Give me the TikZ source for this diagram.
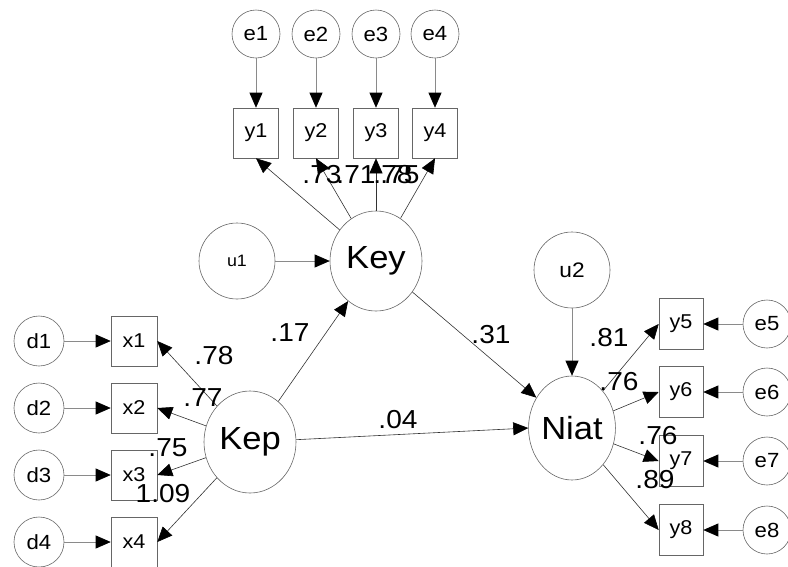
\documentclass[tikz,border=0pt]{standalone}
\usepackage{fontspec}
\setmainfont{Liberation Sans}[FakeStretch=1.08]
\usetikzlibrary{arrows.meta,shapes.geometric}
\definecolor{edgegray}{HTML}{666666}
\definecolor{errline}{HTML}{8A8A8A}
\definecolor{ldline}{HTML}{333333}
\tikzset{
  obsbox/.style={draw=edgegray, rectangle, line width=0.6pt, inner sep=0pt,
    minimum width=45pt, minimum height=50pt, font=\fontsize{20}{24}\selectfont},
  errc/.style={draw=edgegray, ellipse, line width=0.6pt, inner sep=0pt,
    minimum width=48pt, minimum height=48pt, font=\fontsize{20.5}{24}\selectfont},
  latc/.style={draw=edgegray, ellipse, line width=0.6pt, inner sep=0pt,
    font=\fontsize{32}{38}\selectfont},
  ldarrow/.style={draw=ldline, line width=0.6pt,
    -{Triangle[length=15pt,width=13pt,color=black]}},
  errarrow/.style={draw=errline, line width=0.7pt,
    -{Triangle[length=15pt,width=13pt,color=black]}},
  numlab/.style={inner sep=0pt, font=\fontsize{26}{30}\selectfont}
}
\begin{document}
\begin{tikzpicture}[x=1pt,y=-1pt]
\useasboundingbox (0,0) rectangle (788,566);
% top error terms and indicators
\foreach \i/\x in {1/256,2/316,3/376,4/435}{
  \node[errc] (e\i) at (\x,34) {e\i};
  \node[obsbox] (y\i) at (\x,133) {y\i};
}
% latent variables
\node[latc, minimum width=92pt, minimum height=100pt] (Key) at (376,261) {Key};
\node[latc, minimum width=92pt, minimum height=102pt] (Kep) at (250,442) {Kep};
\node[latc, minimum width=86pt, minimum height=104pt] (Niat) at (572,428) {Niat};
\node[errc, minimum width=76pt, minimum height=76pt, font=\fontsize{16.5}{20}\selectfont] (u1) at (237,261) {u1};
\node[errc, minimum width=76pt, minimum height=76pt, font=\fontsize{21}{25}\selectfont] (u2) at (572,270) {u2};
% left indicators
\foreach \i/\y in {1/341,2/408,3/475,4/542}{
  \node[obsbox, minimum width=46pt] (x\i) at (134,\y) {x\i};
  \node[errc, minimum width=50pt, minimum height=50pt] (d\i) at (39,\y) {d\i};
}
% right indicators
\foreach \i/\j/\y in {5/5/324,6/6/392,7/7/461,8/8/530}{
  \node[obsbox, minimum width=44pt, minimum height=51pt] (y\i) at (681,\y) {y\i};
  \node[errc, minimum width=48pt, minimum height=48pt] (e\j) at (767,\y) {e\j};
}
% error arrows
\foreach \i in {1,2,3,4}{
  \draw[errarrow] (e\i) -- (y\i);
  \draw[errarrow] (d\i) -- (x\i);
}
\foreach \i in {5,6,7,8}{
  \draw[errarrow] (e\i) -- (y\i);
}
\draw[errarrow] (u1) -- (Key);
\draw[errarrow] (u2) -- (Niat);
% loadings
\foreach \i in {1,2,3,4}{
  \draw[ldarrow] (Key) -- (y\i.south);
  \draw[ldarrow] (Kep) -- (x\i.east);
}
\foreach \i in {5,6,7,8}{
  \draw[ldarrow] (Niat) -- (y\i.west);
}
% structural paths
\draw[ldarrow] (Kep) -- (Key);
\draw[ldarrow] (Kep) -- (Niat.west);
\draw[ldarrow] (Key) -- (Niat);
% labels
\node[numlab] (l1) at (322,175) {.73};
\node[numlab] (l2) at (356,175) {.71};
\node[numlab] (l3) at (393,175) {.78};
\node[numlab] (l4) at (400,175) {.75};
\node[numlab] (l5) at (214,356) {.78};
\node[numlab] (l6) at (203,398) {.77};
\node[numlab] (l7) at (168,448) {.75};
\node[numlab] (l8) at (163,494) {1.09};
\node[numlab] (l9) at (290,333) {.17};
\node[numlab] (l10) at (491,335) {.31};
\node[numlab] (l11) at (398,420) {.04};
\node[numlab] (l12) at (609,338) {.81};
\node[numlab] (l13) at (619,382) {.76};
\node[numlab] (l14) at (658,436) {.76};
\node[numlab] (l15) at (655,480) {.89};
\end{tikzpicture}
\end{document}
